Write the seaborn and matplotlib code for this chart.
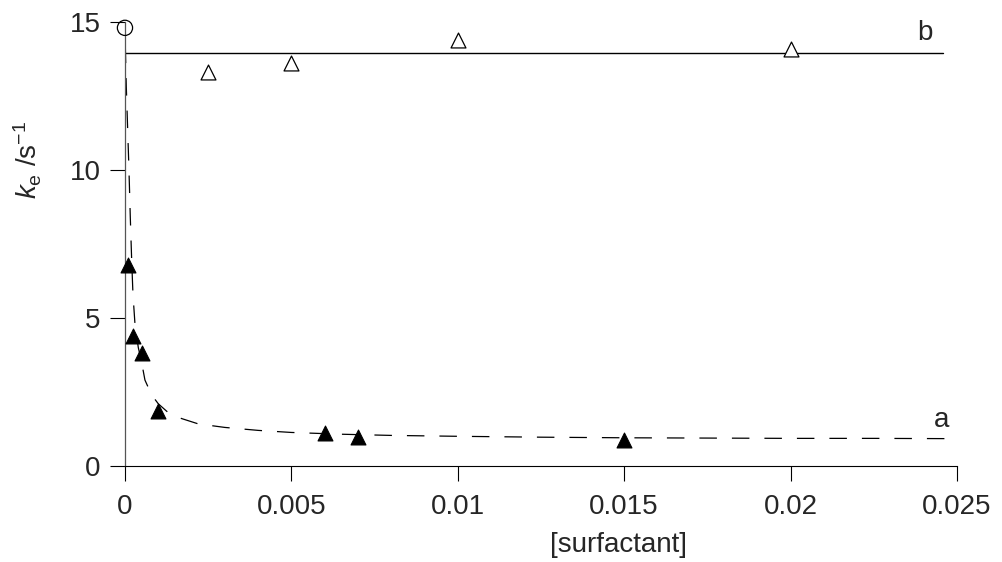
import matplotlib
matplotlib.use("Agg")
import matplotlib.pyplot as plt
import seaborn as sns
import pandas as pd

# measured points, series a (filled triangles)
conc_a = [0.0001, 0.00025, 0.0005, 0.001, 0.006, 0.007, 0.015]
ke_a = [6.8, 4.4, 3.8, 1.86, 1.1, 0.98, 0.88]

# series b (open triangles)
conc_b = [0.0025, 0.005, 0.01, 0.02]
ke_b = [13.3, 13.6, 14.4, 14.1]

# pure solution (open circle)
conc_0 = [0.0]
ke_0 = [14.8]

# fitted curve a
fit_a_x = [0.00001, 0.00004, 0.00008, 0.00012, 0.00016, 0.0002, 0.00024, 0.0003,
           0.0004, 0.0005, 0.0006, 0.0008, 0.001, 0.0013, 0.0017, 0.0022, 0.003,
           0.004, 0.005, 0.0065, 0.008, 0.01, 0.0125, 0.015, 0.0175, 0.02,
           0.0225, 0.025]
fit_a_y = [14.2, 12.8, 11.4, 10.0, 8.4, 7.0, 5.8, 4.8,
           4.0, 3.5, 2.9, 2.4, 2.1, 1.8, 1.6, 1.42, 1.3,
           1.2, 1.13, 1.07, 1.03, 1.0, 0.97, 0.95, 0.94, 0.93,
           0.93, 0.92]

# line b (constant fit)
fit_b_x = [0.0, 0.02458]
fit_b_y = [13.95, 13.95]

xticks = [0, 0.005, 0.01, 0.015, 0.02, 0.025]
xticklabels = ["0", "0.005", "0.01", "0.015", "0.02", "0.025"]
yticks = [0, 5, 10, 15]

sns.set_style("ticks")
plt.rcParams["font.family"] = ["Liberation Sans", "DejaVu Sans"]
plt.rcParams["mathtext.fontset"] = "custom"
plt.rcParams["mathtext.rm"] = "Liberation Sans"
plt.rcParams["mathtext.it"] = "Liberation Sans:italic"

fig = plt.figure(figsize=(10.03, 5.62), dpi=100)
ax = fig.add_axes([0.1246, 0.171, 0.8295, 0.79])

df_a = pd.DataFrame({"x": fit_a_x, "y": fit_a_y})
sns.lineplot(data=df_a, x="x", y="y", sort=False, estimator=None,
             color="black", lw=0.9, ax=ax)
ax.lines[-1].set_dashes([14, 12])

df_b = pd.DataFrame({"x": fit_b_x, "y": fit_b_y})
sns.lineplot(data=df_b, x="x", y="y", sort=False, estimator=None,
             color="black", lw=1.0, ax=ax)

sns.scatterplot(x=conc_a, y=ke_a, marker="^", s=115, color="black",
                edgecolor="black", linewidth=0.8, ax=ax, zorder=4, clip_on=False)
sns.scatterplot(x=conc_b, y=ke_b, marker="^", s=115, facecolor="white",
                edgecolor="black", linewidth=0.9, ax=ax, zorder=4, clip_on=False)
sns.scatterplot(x=conc_0, y=ke_0, marker="o", s=120, facecolor="none",
                edgecolor="black", linewidth=0.9, ax=ax, zorder=5, clip_on=False)

ax.text(0.02455, 1.55, "a", fontsize=20, ha="center", va="center")
ax.text(0.02404, 14.62, "b", fontsize=20, ha="center", va="center")

ax.set_xlim(0, 0.025)
ax.set_ylim(0, 15)
ax.set_xticks(xticks)
ax.set_xticklabels(xticklabels)
ax.set_yticks(yticks)
ax.tick_params(direction="out", length=10.5, width=0.8, labelsize=20, color="black")
ax.tick_params(axis="x", pad=10)
ax.tick_params(axis="y", pad=7)
sns.despine(ax=ax)
ax.spines["left"].set_linewidth(0.9)
ax.spines["left"].set_color("#555555")
ax.spines["bottom"].set_linewidth(0.8)
ax.spines["bottom"].set_color("black")

ax.set_xlabel("[surfactant]", fontsize=20)
ax.xaxis.set_label_coords(0.593, -0.149)
ax.set_ylabel(r"$k_{\mathrm{e}}$ /s$^{-1}$", fontsize=20)
ax.yaxis.set_label_coords(-0.097, 0.69)

fig.savefig("out.png", dpi=100)
